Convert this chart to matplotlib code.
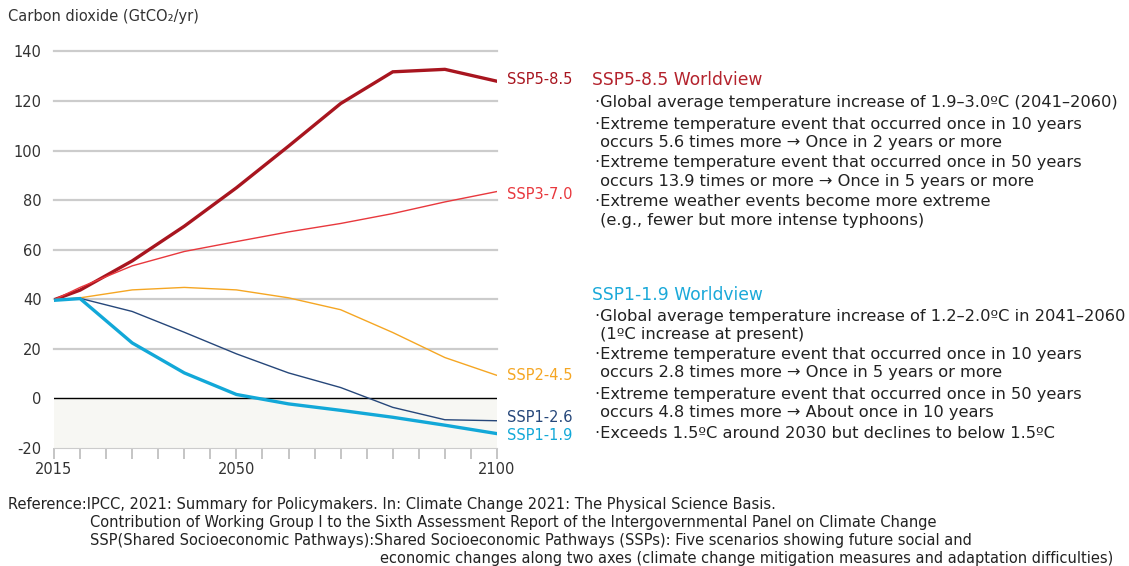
import matplotlib
matplotlib.use("Agg")
import matplotlib.pyplot as plt
import numpy as np

plt.rcParams["axes.unicode_minus"] = False

# datos de emisiones (GtCO2/yr)
anios = [2015, 2020, 2030, 2040, 2050, 2060, 2070, 2080, 2090, 2100]
ssp585 = [39.8, 43.7, 55.5, 69.5, 85.0, 101.8, 119.0, 131.8, 132.8, 128.0]
ssp370 = [39.8, 44.8, 53.5, 59.3, 63.3, 67.2, 70.6, 74.6, 79.3, 83.5]
ssp245 = [39.8, 40.6, 43.8, 44.8, 43.8, 40.6, 35.8, 26.6, 16.5, 9.3]
ssp126 = [39.6, 40.4, 35.1, 26.7, 18.0, 10.3, 4.4, -3.6, -8.6, -9.0]
ssp119 = [39.6, 40.3, 22.4, 10.3, 1.6, -2.2, -4.8, -7.6, -10.8, -14.2]

escenarios = ["SSP5-8.5", "SSP3-7.0", "SSP2-4.5", "SSP1-2.6", "SSP1-1.9"]
series = [ssp585, ssp370, ssp245, ssp126, ssp119]
colores = ["#A8151F", "#E8383D", "#F5A623", "#26477A", "#12A8D8"]
grosores = [2.4, 1.0, 1.0, 1.0, 2.4]
desplaz = [1, -2, 0, 2, -1]  # ajuste vertical de etiquetas (puntos)

yticks = [-20, 0, 20, 40, 60, 80, 100, 120, 140]
xticks = [2015, 2050, 2100]

W, H = 1129, 566
fig = plt.figure(figsize=(W / 100, H / 100), dpi=100)
ax = fig.add_axes([54 / W, 1 - 448 / H, (497 - 54) / W, (448 - 51.5) / H])

texto = "#333333"
ax.axhspan(-20, 0, color="#F7F7F3", zorder=0)
for v in yticks[2:]:
    ax.axhline(v, color="#CCCCCC", lw=1.6, zorder=1, clip_on=False)
ax.axhline(0, color="black", lw=1.0, zorder=2)

for nombre, s, c, g, d in zip(escenarios, series, colores, grosores, desplaz):
    ax.plot(anios, s, color=c, lw=g, zorder=3, solid_joinstyle="miter")
    ax.annotate(nombre, (anios[-1], s[-1]), xytext=(7, d), textcoords="offset points",
                va="center", ha="left", color=c, fontsize=10.5, annotation_clip=False)

ax.set_xlim(2015, 2100)
ax.set_ylim(-20, 140)
ax.set_yticks(yticks)
ax.set_xticks(xticks)
ax.set_xticks(np.arange(2015, 2101, 5), minor=True)
ax.tick_params(axis="y", length=0, pad=9, labelsize=10.5, labelcolor=texto)
ax.tick_params(axis="x", which="both", length=8, color="#BBBBBB", width=1.2,
               labelsize=10.5, labelcolor=texto, pad=2)
for lado in ["top", "right", "left"]:
    ax.spines[lado].set_visible(False)
ax.spines["bottom"].set_color("#CCCCCC")

fig.text(8 / W, 1 - 16 / H, "Carbon dioxide (GtCO\u2082/yr)", fontsize=10.5,
         color=texto, va="center", ha="left")


def pone(x, y, s, **kw):
    fig.text(x / W, 1 - y / H, s, va="center", ha="left", **kw)


# bloque de texto a la derecha
pone(592, 80, "SSP5-8.5 Worldview", fontsize=12.3, color="#B4232D")
lineas585 = [
    (103, "\u00b7Global average temperature increase of 1.9\u20133.0\u00baC (2041\u20132060)"),
    (124, "\u00b7Extreme temperature event that occurred once in 10 years"),
    (142, " occurs 5.6 times more \u2192 Once in 2 years or more"),
    (163, "\u00b7Extreme temperature event that occurred once in 50 years"),
    (181, " occurs 13.9 times or more \u2192 Once in 5 years or more"),
    (202, "\u00b7Extreme weather events become more extreme"),
    (220, " (e.g., fewer but more intense typhoons)"),
]
for y, s in lineas585:
    pone(595, y, s, fontsize=11.7, color="#222222")

pone(592, 295, "SSP1-1.9 Worldview", fontsize=12.3, color="#1BA9D9")
lineas119 = [
    (316, "\u00b7Global average temperature increase of 1.2\u20132.0\u00baC in 2041\u20132060"),
    (334, " (1\u00baC increase at present)"),
    (355, "\u00b7Extreme temperature event that occurred once in 10 years"),
    (373, " occurs 2.8 times more \u2192 Once in 5 years or more"),
    (394, "\u00b7Extreme temperature event that occurred once in 50 years"),
    (412, " occurs 4.8 times more \u2192 About once in 10 years"),
    (434, "\u00b7Exceeds 1.5\u00baC around 2030 but declines to below 1.5\u00baC"),
]
for y, s in lineas119:
    pone(595, y, s, fontsize=11.7, color="#222222")

# referencia
nota = dict(fontsize=10.5, color="#222222", family=["Liberation Sans Narrow", "DejaVu Sans"])
pone(8, 505, "Reference:IPCC, 2021: Summary for Policymakers. In: Climate Change 2021: The Physical Science Basis.", **nota)
pone(90, 523, "Contribution of Working Group I to the Sixth Assessment Report of the Intergovernmental Panel on Climate Change", **nota)
pone(90, 541, "SSP(Shared Socioeconomic Pathways):Shared Socioeconomic Pathways (SSPs): Five scenarios showing future social and", **nota)
pone(380, 558, "economic changes along two axes (climate change mitigation measures and adaptation difficulties)", **nota)

fig.savefig("out.png", dpi=100)
